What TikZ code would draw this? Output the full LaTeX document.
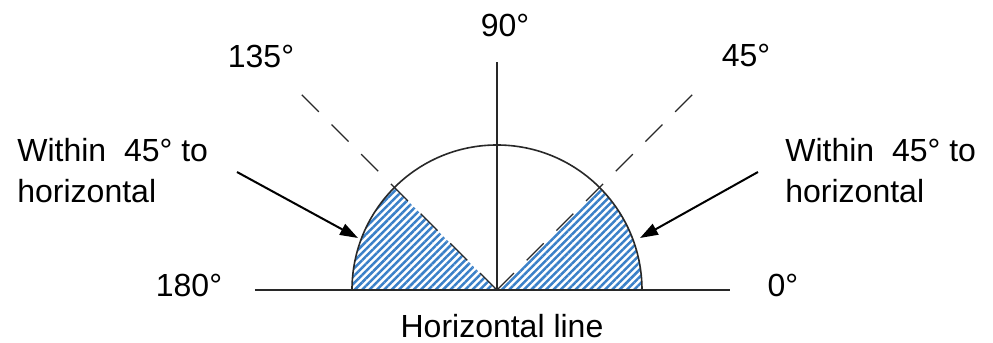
\documentclass[tikz,border=0pt]{standalone}
\usepackage{fontspec}
\setmainfont{Liberation Sans}
\usetikzlibrary{arrows.meta, patterns.meta}
\definecolor{hatchblue}{RGB}{58,128,200}
\definecolor{linegray}{RGB}{40,40,40}

\begin{document}
\begin{tikzpicture}[
  x=0.5pt, y=0.5pt,
  lbl/.style={font=\fontsize{16}{19}\selectfont, inner sep=0pt},
  note/.style={font=\fontsize{16}{20.5}\selectfont, align=left, inner sep=0pt, anchor=north west},
  arr/.style={-{Triangle[length=9pt,width=6pt]}, line width=1pt},
  guide/.style={draw=linegray, dash pattern=on 12pt off 9pt, line width=0.7pt},
  hatch/.style={pattern={Lines[angle=45,distance=2.6pt,line width=1.25pt]}, pattern color=hatchblue}
]
  \useasboundingbox (-497,-53) rectangle (496,290);

  \coordinate (O) at (0,0);
  \coordinate (west) at (-242,0);
  \coordinate (east) at (233,0);
  \coordinate (north) at (0,228);
  \coordinate (d45) at (45:290);
  \coordinate (d135) at (135:290);

  \fill[hatch] (O) -- (0:145) arc[start angle=0, end angle=45, radius=145] -- cycle;
  \fill[hatch] (O) -- (135:145) arc[start angle=135, end angle=180, radius=145] -- cycle;

  \draw[linegray, line width=0.8pt] (145,0) arc[start angle=0, end angle=180, radius=145];
  \draw[linegray, line width=0.8pt] (west) -- (east);
  \draw[linegray, line width=0.8pt] (O) -- (north);
  \draw[guide] (O) -- (d45);
  \draw[guide] (O) -- (d135);

  \node[lbl] (a90) at (8,265) {90°};
  \node[lbl] (a135) at (-236,234) {135°};
  \node[lbl] (a45) at (249,235) {45°};
  \node[lbl] (a180) at (-308,5) {180°};
  \node[lbl] (a0) at (286,5) {0°};
  \node[lbl] (hline) at (5,-36) {Horizontal line};

  \node[note] (lnote) at (-480,152) {Within\ \ 45°~to\\horizontal};
  \node[note] (rnote) at (288,152) {Within\ \ 45°~to\\horizontal};

  \coordinate (ltail) at (-260,118);
  \coordinate (lhead) at (-139,52);
  \coordinate (rtail) at (261,118);
  \coordinate (rhead) at (143,52);
  \draw[arr] (ltail) -- (lhead);
  \draw[arr] (rtail) -- (rhead);
\end{tikzpicture}
\end{document}
